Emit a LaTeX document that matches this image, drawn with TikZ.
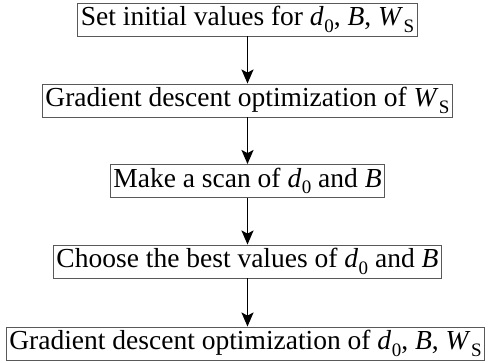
\documentclass[tikz,border=0pt]{standalone}
\usepackage{fontspec}
\setmainfont{Liberation Serif}
\usetikzlibrary{arrows.meta}
\newcommand{\vsub}[2]{\textit{#1}\kern0.5pt\raisebox{-0.5ex}{\fontsize{19}{20}\selectfont #2}}
\begin{document}
\begin{tikzpicture}[x=1pt,y=1pt,
  stepbox/.style={draw=black!65, line width=0.9pt, fill=white, inner xsep=3pt, inner ysep=3pt,
    font=\fontsize{27.5}{30}\selectfont, text height=20pt, text depth=7pt},
  flow/.style={line width=1.6pt, -{Stealth[length=14pt,width=12pt,inset=3pt]}}]
\useasboundingbox (0,0) rectangle (491,363);
\node[stepbox] (a) at (247.5,343.5) {Set initial values for \vsub{d}{0}, \textit{B}, \vsub{W}{S}};
\node[stepbox] (b) at (247.5,262.5) {Gradient descent optimization of \vsub{W}{S}};
\node[stepbox] (c) at (247.5,182) {Make a scan of \vsub{d}{0} and \textit{B}};
\node[stepbox] (d) at (247.5,101.5) {Choose the best values of \vsub{d}{0} and \textit{B}};
\node[stepbox] (e) at (245.5,19.5) {Gradient descent optimization of \vsub{d}{0}, \textit{B}, \vsub{W}{S}};
\draw[flow] (a) -- (b);
\draw[flow] (b) -- (c);
\draw[flow] (c) -- (d);
\draw[flow] (d) -- (d |- e.north);
\end{tikzpicture}
\end{document}
